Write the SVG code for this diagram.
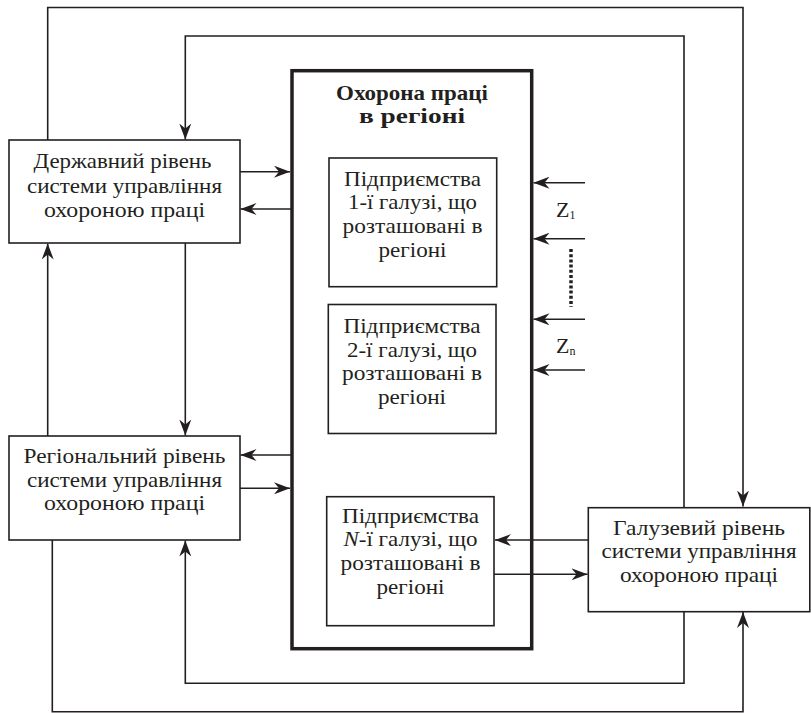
<svg xmlns="http://www.w3.org/2000/svg" width="811" height="713" viewBox="0 0 811 713" font-family="Liberation Serif, serif">
<defs>
<marker id="ah" viewBox="0 0 16 12" refX="16" refY="6" markerWidth="16" markerHeight="12" markerUnits="userSpaceOnUse" orient="auto">
<path d="M0,0 L16,6 L0,12 L5,6 z" fill="#231f20"/>
</marker>
<style>
.box{fill:#fff;stroke:#231f20;stroke-width:1.6}
.big{fill:#fff;stroke:#231f20;stroke-width:3.5}
.ar{fill:none;stroke:#231f20;stroke-width:1.6;marker-end:url(#ah)}
.dot{fill:none;stroke:#231f20;stroke-width:3.5;stroke-dasharray:3,2.2}
text{font-family:'Liberation Serif','Times New Roman',serif;font-size:22px;fill:#231f20;text-anchor:middle}
.b{font-weight:bold}
.z{text-anchor:start}
.sub{font-size:12px}
</style>
</defs>
<rect width="811" height="713" fill="#fff"/>
<g id="connectors">
<path class="ar" d="M47.7,140 V7.5 H743 V506.5"/>
<path class="ar" d="M684,507.5 V36 H185.3 V139.5"/>
<path class="ar" d="M47.7,436 V243.5"/>
<path class="ar" d="M185.3,243 V435.5"/>
<path class="ar" d="M240,171.7 H290"/>
<path class="ar" d="M292,209 H240.5"/>
<path class="ar" d="M292,455 H240.5"/>
<path class="ar" d="M240,488.3 H290"/>
<path class="ar" d="M684,611.7 V683.3 H185.3 V540.5"/>
<path class="ar" d="M52.3,540 V711.7 H743 V612"/>
<path class="ar" d="M585,182.7 H533.5"/>
<path class="ar" d="M585,238.7 H533.5"/>
<path class="ar" d="M585,319.3 H533.5"/>
<path class="ar" d="M585,370 H533.5"/>
<path class="dot" d="M571,249 V307"/>
<path class="dot" d="M410,445 V488"/>
</g>
<g id="region">
<rect class="big" x="292" y="70.7" width="239.7" height="578"/>
<text class="b" x="412" y="100" textLength="152" lengthAdjust="spacingAndGlyphs">Охорона праці</text>
<text class="b" x="412" y="123.3" textLength="106" lengthAdjust="spacingAndGlyphs">в регіоні</text>
</g>
<g id="z-labels">
<text class="z" x="556" y="216.7">Z<tspan class="sub" dy="2">1</tspan></text>
<text class="z" x="556" y="353.3">Z<tspan class="sub" dy="2">n</tspan></text>
</g>
<g id="state">
<rect class="box" x="9" y="140" width="231" height="103"/>
<text x="122.5" y="168" textLength="178" lengthAdjust="spacingAndGlyphs">Державний рівень</text>
<text x="124.5" y="192.7" textLength="195" lengthAdjust="spacingAndGlyphs">системи управління</text>
<text x="124.5" y="216.7" textLength="161" lengthAdjust="spacingAndGlyphs">охороною праці</text>
</g>
<g id="regional">
<rect class="box" x="9" y="436" width="231" height="104"/>
<text x="124.5" y="463" textLength="202" lengthAdjust="spacingAndGlyphs">Регіональний рівень</text>
<text x="124.5" y="486.7" textLength="195" lengthAdjust="spacingAndGlyphs">системи управління</text>
<text x="124.5" y="510" textLength="161" lengthAdjust="spacingAndGlyphs">охороною праці</text>
</g>
<g id="branch">
<rect class="box" x="588.3" y="507.7" width="221.5" height="104"/>
<text x="699" y="535" textLength="172" lengthAdjust="spacingAndGlyphs">Галузевий рівень</text>
<text x="699" y="558" textLength="195" lengthAdjust="spacingAndGlyphs">системи управління</text>
<text x="699" y="581.7" textLength="158" lengthAdjust="spacingAndGlyphs">охороною праці</text>
</g>
<g id="ent1">
<rect class="box" x="329" y="158" width="167.7" height="128.7"/>
<text x="412.5" y="186" textLength="137" lengthAdjust="spacingAndGlyphs">Підприємства</text>
<text x="412.5" y="209.3" textLength="129" lengthAdjust="spacingAndGlyphs">1-ї галузі, що</text>
<text x="412.5" y="232.7" textLength="140" lengthAdjust="spacingAndGlyphs">розташовані в</text>
<text x="412.5" y="257" textLength="68" lengthAdjust="spacingAndGlyphs">регіоні</text>
</g>
<g id="ent2">
<rect class="box" x="328.3" y="304.5" width="167.7" height="129"/>
<text x="412" y="333" textLength="137" lengthAdjust="spacingAndGlyphs">Підприємства</text>
<text x="412" y="356.7" textLength="130" lengthAdjust="spacingAndGlyphs">2-ї галузі, що</text>
<text x="412" y="380" textLength="140" lengthAdjust="spacingAndGlyphs">розташовані в</text>
<text x="412" y="404" textLength="68" lengthAdjust="spacingAndGlyphs">регіоні</text>
</g>
<g id="entN">
<rect class="box" x="326.7" y="496.7" width="167.3" height="129"/>
<text x="410.5" y="523" textLength="137" lengthAdjust="spacingAndGlyphs">Підприємства</text>
<text x="410.5" y="546.3" textLength="134" lengthAdjust="spacingAndGlyphs"><tspan font-style="italic">N</tspan>-ї галузі, що</text>
<text x="410.5" y="570" textLength="140" lengthAdjust="spacingAndGlyphs">розташовані в</text>
<text x="410.5" y="594" textLength="68" lengthAdjust="spacingAndGlyphs">регіоні</text>
</g>
<g id="conn-N">
<path class="ar" d="M588.3,540 H495"/>
<path class="ar" d="M494,574.3 H587.5"/>
</g>
</svg>
